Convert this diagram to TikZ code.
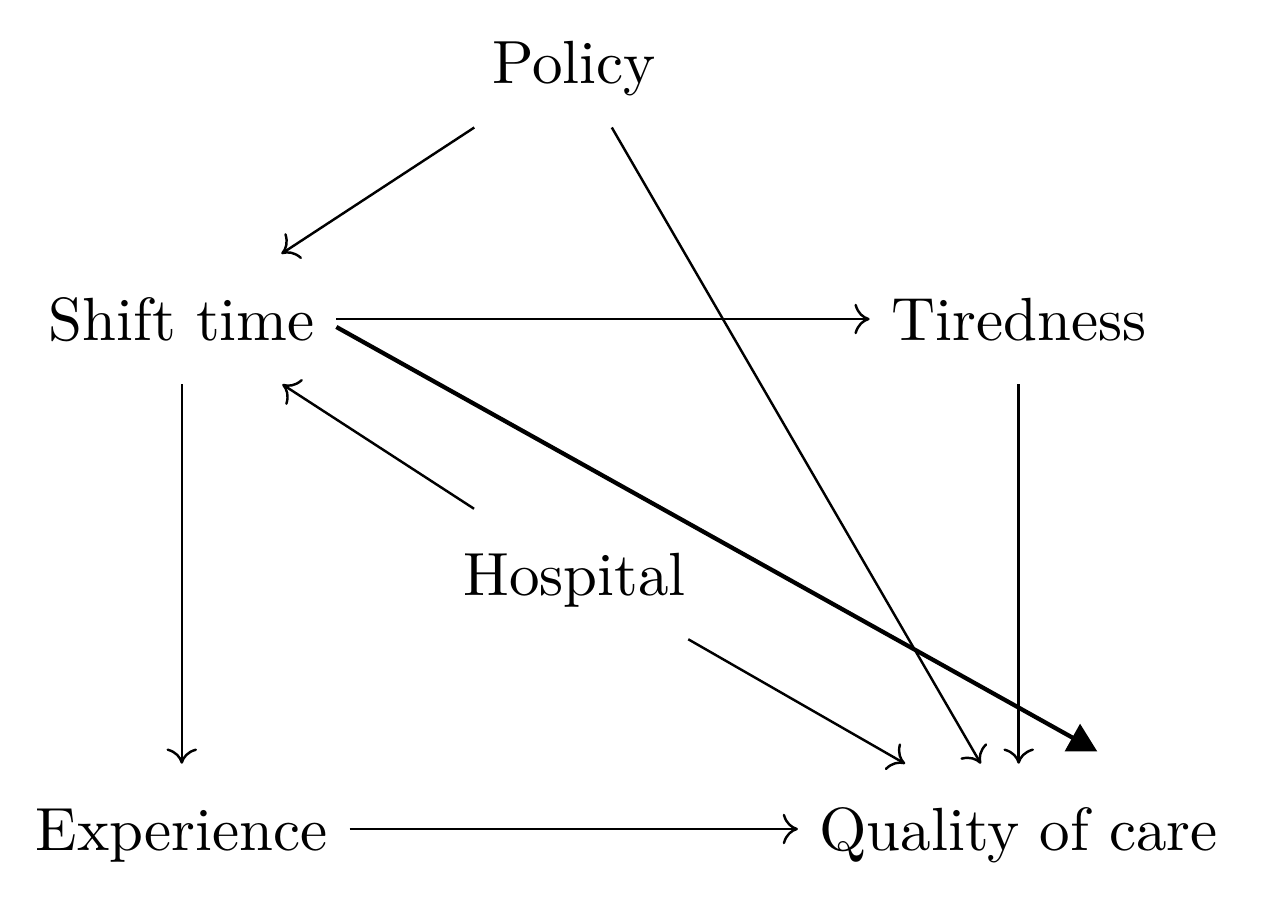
\documentclass[tikz,border=0pt]{standalone}
\usetikzlibrary{arrows.meta}

\begin{document}
\begin{tikzpicture}[>={Computer Modern Rightarrow[length=2.5pt,width=5pt]},
    var/.style={inner xsep=3.33pt, inner ysep=7pt, text height=7pt, text depth=0pt}]
    \useasboundingbox (0,0) rectangle (207.05pt,-147.7pt);

    \node[var] (policy) at (94.1pt,-10.2pt) {Policy};
    \node[var] (shift) at (29.8pt,-52.3pt) {Shift time};
    \node[var] (tired) at (167pt,-52.3pt) {Tiredness};
    \node[var] (hosp) at (94.2pt,-94.1pt) {Hospital};
    \node[var] (exper) at (29.8pt,-135.9pt) {Experience};
    \node[var] (qual) at (167pt,-135.9pt) {Quality of care};

    \draw[->] (policy) -- (shift);
    \draw[->] (policy) -- (qual);
    \draw[->] (shift) -- (tired);
    \draw[->] (shift) -- (exper);
    \draw[->] (hosp) -- (shift);
    \draw[->] (hosp) -- (qual);
    \draw[->] (tired) -- (qual);
    \draw[->] (exper) -- (qual);
    \draw[line width=0.7pt, -{Triangle[length=4.7pt,width=5pt]}]
        ([yshift=-1.3pt]shift.east) -- ([xshift=12.9pt,yshift=2pt]qual.north);
\end{tikzpicture}
\end{document}
